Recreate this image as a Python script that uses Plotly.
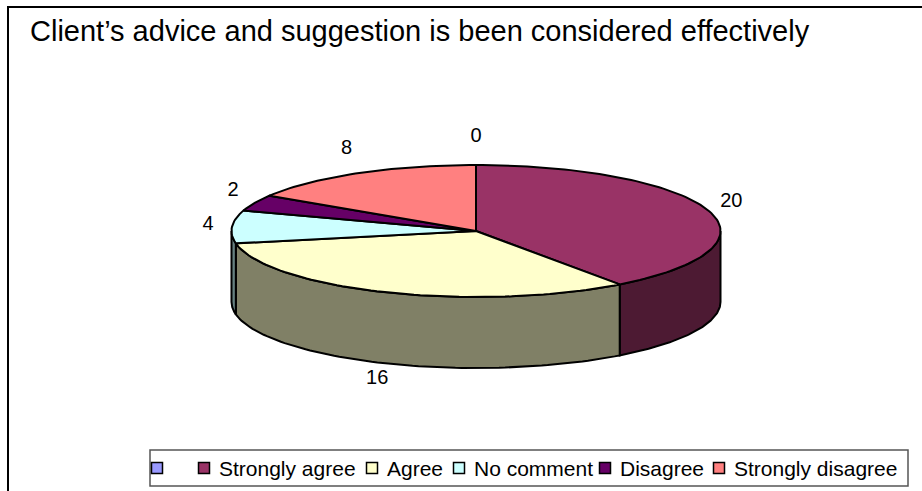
import numpy as np
import plotly.graph_objects as go

# Survey responses
categories = ["", "Strongly agree", "Agree", "No comment", "Disagree", "Strongly disagree"]
values = [0, 20, 16, 4, 2, 8]
colors = ["#9999FF", "#993366", "#FFFFCC", "#CCFFFF", "#660066", "#FF8080"]
side_colors = ["#4D4D80", "#4D1A33", "#808066", "#668080", "#330033", "#804040"]
title_text = "Client\u2019s advice and suggestion is been considered effectively"

W, H = 922, 491
FONT = "Liberation Sans, Arial, sans-serif"

# Pie geometry (tilted disc drawn in pixel space)
cx, cy = 476.0, 231.0
rx, ry = 244.5, 66.0
depth = 71.0


def ell(theta_deg, dy=0.0, ax=rx, ay=ry):
    t = np.radians(theta_deg)
    return cx + ax * np.sin(t), cy - ay * np.cos(t) + dy


fig = go.Figure()

total = float(sum(values))
starts = np.concatenate([[0.0], np.cumsum(values)[:-1]]) / total * 360.0
ends = np.cumsum(values) / total * 360.0

# Side walls: only the front half of the disc (90..270 deg) is visible
for v, a, b, sc in zip(values, starts, ends, side_colors):
    if v == 0:
        continue
    lo, hi = max(a, 90.0), min(b, 270.0)
    if hi <= lo:
        continue
    th = np.linspace(lo, hi, 80)
    xt, yt = ell(th)
    xb, yb = ell(th[::-1], dy=depth)
    xs = np.concatenate([xt, xb, xt[:1]])
    ys = np.concatenate([yt, yb, yt[:1]])
    fig.add_trace(go.Scatter(x=xs, y=ys, mode="lines", fill="toself",
                             fillcolor=sc, line=dict(color="black", width=2),
                             hoverinfo="skip", showlegend=False))

# Top faces
for name, v, a, b, c in zip(categories, values, starts, ends, colors):
    if v == 0:
        continue
    n = max(int((b - a) / 1.5), 4)
    th = np.linspace(a, b, n)
    xa, ya = ell(th)
    xs = np.concatenate([[cx], xa, [cx]])
    ys = np.concatenate([[cy], ya, [cy]])
    fig.add_trace(go.Scatter(x=xs, y=ys, mode="lines", fill="toself",
                             fillcolor=c, line=dict(color="black", width=2),
                             name=name, hoverinfo="skip", showlegend=False))

# Value labels outside the disc
mids = (starts + ends) / 2.0
lx, ly = [], []
for m in mids:
    c = np.cos(np.radians(m))
    if c < 0:
        x, y = ell(m, ax=rx + 24, ay=ry + 22)
        y += depth * (-c)
    else:
        x, y = ell(m, ax=rx + 24, ay=ry + 28)
    lx.append(x)
    ly.append(y)
fig.add_trace(go.Scatter(x=lx, y=ly, mode="text", text=[str(v) for v in values],
                         textfont=dict(family=FONT, size=20, color="black"),
                         hoverinfo="skip", showlegend=False))

# Legend row
leg_top, leg_bot, leg_left, leg_right = 450, 486, 150, 908
swatch_x = [157, 204, 372, 459, 605, 719]
leg_y = (leg_top + leg_bot) / 2
fig.add_trace(go.Scatter(x=swatch_x, y=[leg_y] * len(swatch_x), mode="markers",
                         marker=dict(symbol="square", size=11, color=colors,
                                     line=dict(color="black", width=1.5)),
                         hoverinfo="skip", showlegend=False))
annotations = []
for sx, name in zip(swatch_x, categories):
    if name:
        annotations.append(dict(x=sx + 13, y=leg_y, xref="x", yref="y", text=name,
                                showarrow=False, xanchor="left", yanchor="middle",
                                font=dict(family=FONT, size=21, color="black")))

annotations.append(dict(x=28, y=31, xref="x", yref="y", text=title_text,
                        showarrow=False, xanchor="left", yanchor="middle",
                        font=dict(family=FONT, size=29, color="black")))

shapes = [
    dict(type="rect", xref="x", yref="y", x0=8, y0=7, x1=W + 20, y1=H + 20,
         line=dict(color="black", width=2), fillcolor="rgba(0,0,0,0)", layer="below"),
    dict(type="rect", xref="x", yref="y", x0=leg_left, y0=leg_top, x1=leg_right, y1=leg_bot,
         line=dict(color="#555555", width=1.5), fillcolor="white", layer="below"),
]

fig.update_layout(
    width=W, height=H, autosize=False,
    margin=dict(l=0, r=0, t=0, b=0),
    paper_bgcolor="white", plot_bgcolor="white",
    xaxis=dict(range=[0, W], visible=False, fixedrange=True),
    yaxis=dict(range=[H, 0], visible=False, fixedrange=True),
    annotations=annotations, shapes=shapes,
    showlegend=False,
)

fig.write_html("out.html")
